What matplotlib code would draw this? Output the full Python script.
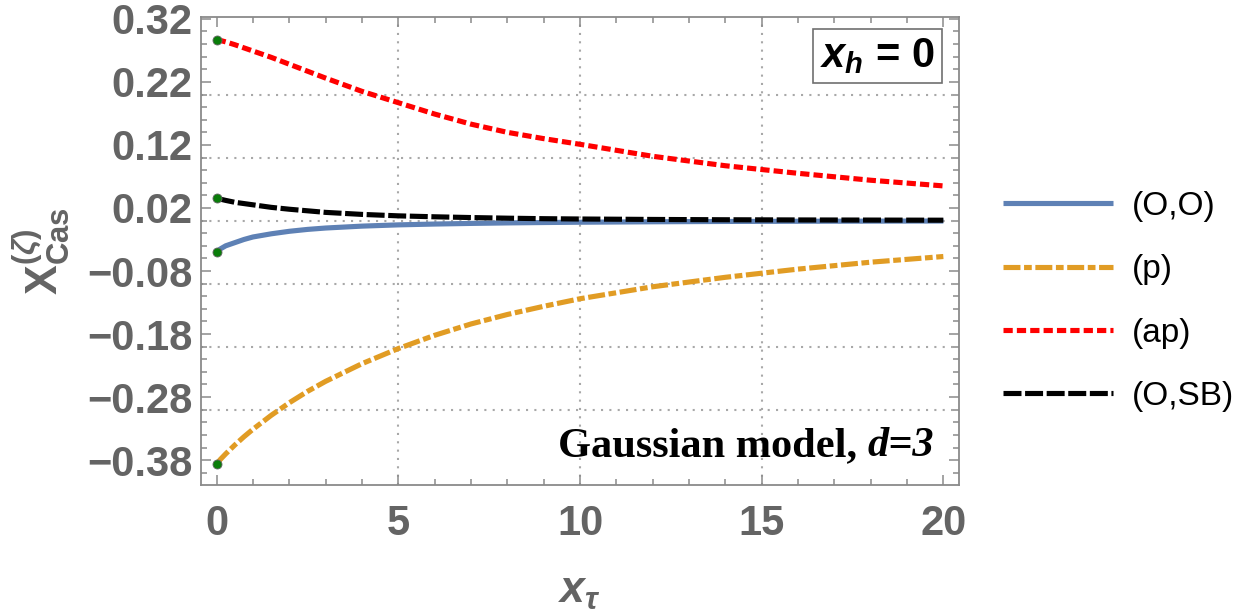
import matplotlib
matplotlib.use('Agg')
import matplotlib.pyplot as plt
from matplotlib.ticker import FixedLocator, FixedFormatter, MultipleLocator
from matplotlib.transforms import offset_copy

plt.rcParams['mathtext.fontset'] = 'custom'
plt.rcParams['mathtext.rm'] = 'Liberation Sans:bold'
plt.rcParams['mathtext.it'] = 'Liberation Sans:italic:bold'
plt.rcParams['mathtext.bf'] = 'Liberation Sans:bold'
plt.rcParams['mathtext.sf'] = 'Liberation Sans:bold'
plt.rcParams['font.family'] = ['Liberation Sans', 'DejaVu Sans']

# ---- data ----
x_tau = [0, 0.1, 0.25, 0.5, 0.75, 1, 1.5, 2, 2.5, 3, 4, 5, 6, 7, 8, 9, 10, 12, 14, 16, 18, 20]
y_OO = [-0.050, -0.045, -0.040, -0.035, -0.030, -0.026, -0.021, -0.017, -0.014, -0.0118,
        -0.0088, -0.0068, -0.0055, -0.0045, -0.0037, -0.0031, -0.0026, -0.0019, -0.0014,
        -0.0011, -0.0009, -0.0007]
y_p = [-0.386, -0.379, -0.370, -0.356, -0.343, -0.331, -0.309, -0.289, -0.271, -0.255,
       -0.227, -0.203, -0.182, -0.164, -0.149, -0.136, -0.124, -0.105, -0.090, -0.077,
       -0.066, -0.057]
y_ap = [0.287, 0.2858, 0.2835, 0.279, 0.274, 0.269, 0.259, 0.248, 0.237, 0.226,
        0.205, 0.187, 0.169, 0.153, 0.140, 0.130, 0.121, 0.102, 0.087, 0.075, 0.064, 0.055]
y_OSB = [0.0355, 0.034, 0.032, 0.029, 0.027, 0.025, 0.021, 0.018, 0.0155, 0.0130,
         0.0098, 0.0075, 0.0060, 0.0048, 0.0038, 0.0030, 0.0025, 0.0018, 0.0013, 0.0010,
         0.0008, 0.0006]
labels = ['(O,O)', '(p)', '(ap)', '(O,SB)']
y_major = [0.32, 0.22, 0.12, 0.02, -0.08, -0.18, -0.28, -0.38]
y_tick_labels = ['0.32', '0.22', '0.12', '0.02', '\u22120.08', '\u22120.18', '\u22120.28', '\u22120.38']
x_major = [0, 5, 10, 15, 20]
x_grid = [5, 10, 15]
y_grid = [0.2, 0.1, 0.0, -0.1, -0.2, -0.3]

TICK_GRAY = '#646464'
FRAME_GRAY = '#8a8a8a'

fig = plt.figure(figsize=(12.48, 6.13), dpi=100)
ax = fig.add_axes([0.1608, 0.2088, 0.6076, 0.7635])
ax.set_xlim(-0.44, 20.43)
ax.set_ylim(-0.4195, 0.323)

for g in x_grid:
    ax.axvline(g, color='#a8a8a8', lw=1.5, ls=(0, (1, 3)), zorder=1)
for g in y_grid:
    ax.axhline(g, color='#a8a8a8', lw=1.5, ls=(0, (1, 3)), zorder=1)

lw = 3.7
ax.plot(x_tau, y_OO, color='#5E81B5', lw=lw, solid_capstyle='butt', label=labels[0], zorder=3)
ax.plot(x_tau, y_p, color='#E19C24', lw=lw, dashes=(3.3, 0.7, 1.5, 0.7), label=labels[1], zorder=3)
ax.plot(x_tau, y_ap, color='#FF0000', lw=lw, dashes=(1.8, 0.8), label=labels[2], zorder=3)
ax.plot(x_tau, y_OSB, color='#000000', lw=lw, dashes=(3.5, 0.7), label=labels[3], zorder=4)

starts = [y_OO[0], y_p[0], y_ap[0], y_OSB[0]]
ax.plot([x_tau[0]] * 4, starts, ls='none', marker='o', ms=6.5, mfc='#0a7d0a',
        mec='#666666', mew=0.6, zorder=5)

# axes styling
for s in ax.spines.values():
    s.set_color(FRAME_GRAY)
    s.set_linewidth(1.3)
ax.yaxis.set_major_locator(FixedLocator(y_major))
ax.yaxis.set_major_formatter(FixedFormatter(y_tick_labels))
ax.yaxis.set_minor_locator(MultipleLocator(0.02))
ax.xaxis.set_major_locator(FixedLocator(x_major))
ax.xaxis.set_minor_locator(MultipleLocator(1))
ax.tick_params(which='both', direction='in', top=True, right=True, color=FRAME_GRAY, width=1.1)
ax.tick_params(which='major', length=7)
ax.tick_params(which='minor', length=4)
ax.tick_params(axis='y', which='major', pad=6)
ax.tick_params(axis='x', which='major', pad=14)
for lab in ax.get_xticklabels() + ax.get_yticklabels():
    lab.set_fontsize(30)
    lab.set_fontweight('bold')
    lab.set_color(TICK_GRAY)

ax.set_xlabel(r'$x_{\tau}$', fontsize=32, color=TICK_GRAY, labelpad=19)
ax.set_ylabel(r'$\mathrm{X}^{(\zeta)}_{\mathrm{Cas}}$', fontsize=32, color=TICK_GRAY, labelpad=11)

# x_h = 0 box
ax.text(0.892, 0.917, r'$x_h$ = 0', transform=ax.transAxes, ha='center', va='center',
        fontsize=30, fontweight='bold', color='black',
        bbox=dict(boxstyle='square,pad=0.17', fc='white', ec='#707070', lw=1.2), zorder=6)

# Gaussian model text
serif = ['Liberation Serif', 'DejaVu Serif']
xa, ya = 0.866, 0.061
ax.text(xa, ya, 'Gaussian model,', transform=ax.transAxes, ha='right', va='baseline',
        fontsize=30.5, fontweight='bold', family=serif, color='black', zorder=6)
ax.text(xa, ya, 'd=3', transform=offset_copy(ax.transAxes, fig=fig, x=10, y=0, units='dots'),
        ha='left', va='baseline', fontsize=30.5, fontweight='bold', fontstyle='italic',
        family=serif, color='black', zorder=6)

leg = ax.legend(loc='center left', bbox_to_anchor=(1.041, 0.392), frameon=False,
                fontsize=24, handlelength=3.3, handletextpad=0.55, labelspacing=0.97,
                borderaxespad=0)

fig.savefig('out.png', dpi=100)
